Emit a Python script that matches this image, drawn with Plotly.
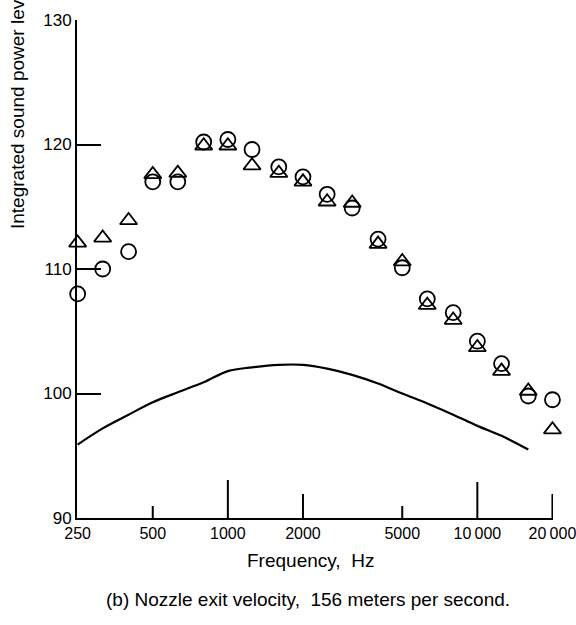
import plotly.graph_objects as go
import math

freq = [250, 315, 400, 500, 630, 800, 1000, 1250, 1600, 2000, 2500, 3150,
        4000, 5000, 6300, 8000, 10000, 12500, 16000, 20000]
circles = [108.0, 110.0, 111.4, 117.0, 117.0, 120.2, 120.4, 119.6, 118.2, 117.4,
           116.0, 114.9, 112.4, 110.1, 107.6, 106.5, 104.2, 102.4, 99.8, 99.5]
triangles = [112.1, 112.5, 113.9, 117.6, 117.7, 119.9, 119.9, 118.3, 117.7, 117.0,
             115.4, 115.3, 112.0, 110.6, 107.1, 105.9, 103.7, 101.8, 100.2, 97.1]
curve_freq = [250, 315, 400, 500, 630, 800, 1000, 1250, 1600, 2000, 2500, 3150,
              4000, 5000, 6300, 8000, 10000, 12500, 16000]
curve = [95.9, 97.2, 98.3, 99.3, 100.1, 100.9, 101.8, 102.1, 102.3, 102.3, 102.0,
         101.5, 100.8, 100.0, 99.2, 98.3, 97.4, 96.6, 95.5]

x_tickvals = [250, 500, 1000, 2000, 5000, 10000, 20000]
x_ticktext = ["250", "500", "1000", "2000", "5000", "10\u2009000", "20\u2009000"]
x_ticklen = [0, 12, 38, 24, 12, 36, 24]
y_tickvals = [90, 100, 110, 120, 130]

FONT = "Liberation Sans, Arial, sans-serif"

W, H = 576, 625
ML, MR, MT, MB = 77, 23, 20, 107
PW = W - ML - MR
PH = H - MT - MB

fig = go.Figure()
fig.add_trace(go.Scatter(x=curve_freq, y=curve, mode="lines",
                         line=dict(color="black", width=2.2, shape="spline"),
                         cliponaxis=False, showlegend=False))
fig.add_trace(go.Scatter(x=freq, y=circles, mode="markers",
                         marker=dict(symbol="circle-open", size=15, color="black",
                                     line=dict(width=1.8, color="black")),
                         cliponaxis=False, showlegend=False))
fig.add_trace(go.Scatter(x=freq, y=triangles, mode="markers",
                         marker=dict(symbol="triangle-up-open", size=15, color="black",
                                     line=dict(width=1.8, color="black")),
                         cliponaxis=False, showlegend=False))

shapes = []
for v, ln in zip(x_tickvals, x_ticklen):
    if ln > 0:
        shapes.append(dict(type="line", xref="x", yref="paper", x0=v, x1=v,
                           y0=0, y1=ln / PH, line=dict(color="black", width=2)))

fig.update_layout(
    width=W, height=H,
    margin=dict(l=ML, r=MR, t=MT, b=MB, autoexpand=False),
    paper_bgcolor="white", plot_bgcolor="white",
    font=dict(family=FONT, color="black", size=18),
    shapes=shapes,
    xaxis=dict(type="log", range=[math.log10(248.5), math.log10(20100)],
               tickvals=x_tickvals, ticktext=x_ticktext, ticks="",
               showline=True, linecolor="black", linewidth=2,
               showgrid=False, zeroline=False, ticklabelstandoff=0,
               ticklabeloverflow="allow", automargin=False,
               tickfont=dict(size=16, family=FONT)),
    yaxis=dict(range=[90, 130], tickvals=y_tickvals, ticks="inside", ticklen=24,
               tickwidth=2, tickcolor="black", automargin=False,
               showline=True, linecolor="black", linewidth=2,
               showgrid=False, zeroline=False,
               tickfont=dict(size=17, family=FONT)),
    annotations=[
        dict(text="Frequency,  Hz", xref="paper", yref="paper",
             x=(310 - ML) / PW, y=-(560 - (H - MB)) / PH,
             xanchor="center", yanchor="middle", showarrow=False,
             font=dict(size=19, family=FONT)),
        dict(text="(b) Nozzle exit velocity,  156 meters per second.", xref="paper", yref="paper",
             x=(308 - ML) / PW, y=-(599 - (H - MB)) / PH,
             xanchor="center", yanchor="middle", showarrow=False,
             font=dict(size=19, family=FONT)),
        dict(text="Integrated sound power level, dB", xref="paper", yref="paper",
             x=(17 - ML) / PW, y=((H - MB) - 231) / PH,
             xanchor="center", yanchor="bottom", textangle=-90, showarrow=False,
             font=dict(size=19, family=FONT)),
    ],
)

fig.write_html("out.html")
